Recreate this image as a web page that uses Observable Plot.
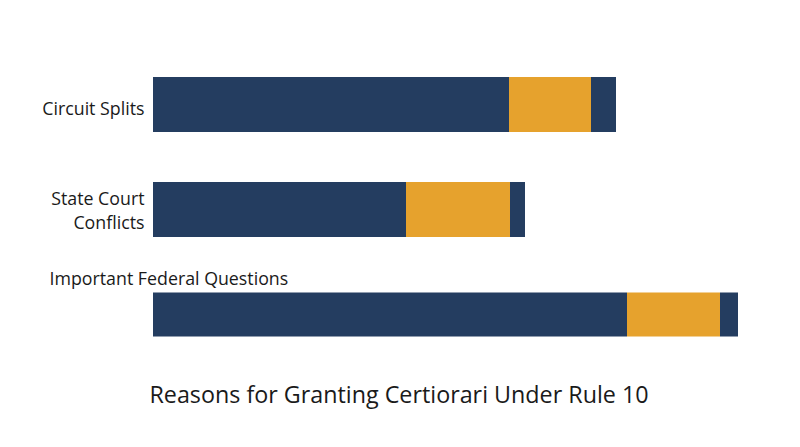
<!DOCTYPE html>
<html>
<head>
<meta charset="utf-8">
<script src="https://cdn.jsdelivr.net/npm/d3@7"></script>
<script src="https://cdn.jsdelivr.net/npm/@observablehq/plot@0.6"></script>
<style>
  html, body { margin: 0; padding: 0; background: #fff; }
  #chart svg { display: block; font-variant-ligatures: none; }
  #title { font-family: "Open Sans", Lato, sans-serif; font-size: 23.3px; line-height: 32px; color: #1a1a1a; text-align: center; margin-top: 3px; width: 798px; font-variant-ligatures: none; }
</style>
</head>
<body>
<div id="chart"></div>
<div id="title">Reasons for Granting Certiorari Under Rule 10</div>
<script>
const categories = ["Circuit Splits", "State Court Conflicts", "Important Federal Questions"];
const labels = ["Circuit Splits", "State Court\nConflicts", "Important Federal Questions"];
const segments = ["first", "second", "third"];
const firstPart = [356, 253, 474];
const secondPart = [82, 104, 93];
const thirdPart = [25, 15, 18];
const colors = ["#243d60", "#e6a22d", "#243d60"];

const rows = [];
categories.forEach((c, i) => {
  rows.push({category: c, segment: "first", value: firstPart[i]});
  rows.push({category: c, segment: "second", value: secondPart[i]});
  rows.push({category: c, segment: "third", value: thirdPart[i]});
});
const labelRows = categories.map((c, i) => ({category: c, label: labels[i]}));

const font = "'Open Sans', Lato, sans-serif";

const chart = Plot.plot({
  width: 800,
  height: 375,
  marginTop: 0, marginBottom: 0, marginLeft: 0, marginRight: 0,
  style: {fontFamily: font, background: "#fff"},
  x: {domain: [0, 585], range: [153, 738], axis: null},
  y: {type: "band", domain: categories, range: [52, 367], padding: 0, round: false, axis: null},
  color: {domain: segments, range: colors},
  marks: [
    Plot.barX(rows.filter(d => d.category !== categories[2]),
      Plot.stackX({x: "value", y: "category", fill: "segment", order: null, insetTop: 25, insetBottom: 25})),
    Plot.barX(rows.filter(d => d.category === categories[2]),
      Plot.stackX({x: "value", y: "category", fill: "segment", order: null, insetTop: 30.5, insetBottom: 30.5})),
    Plot.text(labelRows.filter(d => d.category === categories[0]),
      {x: () => 0, y: "category", text: "label", textAnchor: "end", dx: -9, dy: 4, fontSize: 17.8, fill: "#1a1a1a"}),
    Plot.text(labelRows.filter(d => d.category === categories[1]),
      {x: () => 0, y: "category", text: "label", textAnchor: "end", dx: -9, dy: -1, lineHeight: 1.37, fontSize: 17.8, fill: "#1a1a1a"}),
    Plot.text(labelRows.filter(d => d.category === categories[2]),
      {x: () => 0, y: "category", text: "label", textAnchor: "start", dx: -104, dy: -36, fontSize: 17.8, fill: "#1a1a1a"})
  ]
});
document.getElementById("chart").appendChild(chart);
</script>
</body>
</html>
